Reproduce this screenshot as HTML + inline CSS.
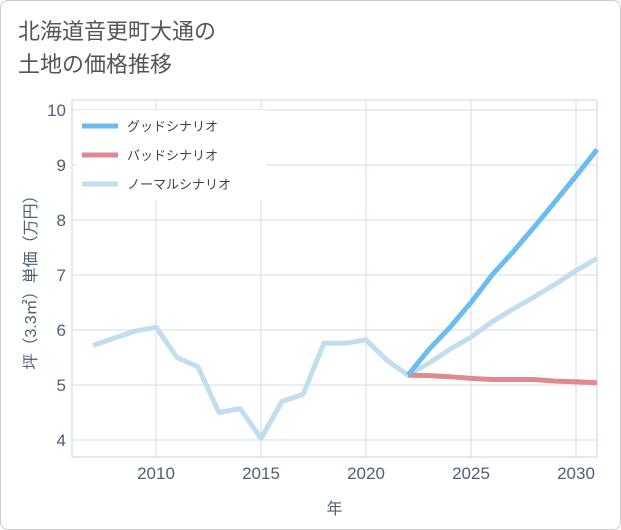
<!DOCTYPE html>
<html><head><meta charset="utf-8"><style>
body{margin:0;background:#fff;}
#wrap{position:relative;width:619px;height:528px;border:1px solid #ccc;border-radius:8px;background:#fff;font-family:"Liberation Sans","Noto Sans CJK JP",sans-serif;overflow:hidden}
#title{position:absolute;left:17px;top:14px;font-size:22px;line-height:33px;color:#555;}
</style></head><body>
<div id="wrap">
<div id="title">北海道音更町大通の<br>土地の価格推移</div>
<svg id="chart" width="621" height="530" style="position:absolute;left:-1px;top:-1px"></svg>
</div>
<script>
const years=[2007,2008,2009,2010,2011,2012,2013,2014,2015,2016,2017,2018,2019,2020,2021,2022,2023,2024,2025,2026,2027,2028,2029,2030,2031];
const normalVals=[5.72,5.85,5.98,6.05,5.5,5.33,4.5,4.57,4.03,4.7,4.83,5.76,5.76,5.82,5.45,5.18,5.4,5.65,5.87,6.15,6.38,6.6,6.83,7.08,7.3];
const futureYears=[2022,2023,2024,2025,2026,2027,2028,2029,2030,2031];
const goodVals=[5.18,5.65,6.05,6.5,7.0,7.42,7.87,8.33,8.8,9.28];
const badVals=[5.18,5.17,5.15,5.12,5.1,5.1,5.1,5.07,5.06,5.04];
const xTicks=[2010,2015,2020,2025,2030];
const yTicks=[4,5,6,7,8,9,10];
const L=72,R=597,T=100,B=457;
const x=v=>L+(v-2006)*(R-L)/25;
const y=v=>440-(v-4)*55;
const svg=document.getElementById('chart');
const NS='http://www.w3.org/2000/svg';
function mk(t,a){const e=document.createElementNS(NS,t);for(const k in a)e.setAttribute(k,a[k]);svg.appendChild(e);return e;}
let e=mk('rect',{x:L,y:T,width:R-L,height:B-T,fill:'#fff',stroke:'#c8d4df'});


yTicks.forEach(v=>{
 let g=mk('line',{x1:L,x2:R,y1:y(v),y2:y(v),stroke:'#d0dce7'});
 
 
 let t=mk('text',{x:L-6,y:y(v)+6,'text-anchor':'end','font-size':17,fill:'#506070'});t.textContent=v;
 
 
});
xTicks.forEach(v=>{
 let g=mk('line',{x1:x(v),x2:x(v),y1:T,y2:B,stroke:'#d0dce7'});
 
 
 let t=mk('text',{x:x(v),y:B+22,'text-anchor':'middle','font-size':17,fill:'#506070'});t.textContent=v;
 
 
});
let xt=mk('text',{x:(L+R)/2,y:514,'text-anchor':'middle','font-size':16,fill:'#506070'});xt.textContent='年';


let yt=mk('text',{x:0,y:0,'text-anchor':'middle','font-size':16,fill:'#506070',transform:`translate(36,${(T+B)/2}) rotate(-90)`});yt.textContent='坪（3.3㎡）単価（万円）';


function line(xs,vs,c,n){
 const d=xs.map((v,i)=>(i?'L':'M')+x(v).toFixed(1)+','+y(vs[i]).toFixed(1)).join('');
 let p=mk('path',{d,fill:'none',stroke:c,'stroke-width':5,'stroke-linejoin':'round'});
 
 
}
line(years,normalVals,'#c2deec','normal-scenario-line');
line(futureYears,badVals,'#e08a8f','bad-scenario-line');
line(futureYears,goodVals,'#6cbcf0','good-scenario-line');
const leg=[['グッドシナリオ','#6cbcf0'],['バッドシナリオ','#e08a8f'],['ノーマルシナリオ','#c2deec']];
let lb=mk('rect',{x:76,y:110,width:190,height:90,fill:'#fff'});


leg.forEach((l,i)=>{
 const yy=126+i*29;
 let s=mk('line',{x1:82,x2:118,y1:yy,y2:yy,stroke:l[1],'stroke-width':5});
 
 
 let t=mk('text',{x:127,y:yy+5,'font-size':13,fill:'#444'});t.textContent=l[0];
 
 
});
</script>
</body></html>
